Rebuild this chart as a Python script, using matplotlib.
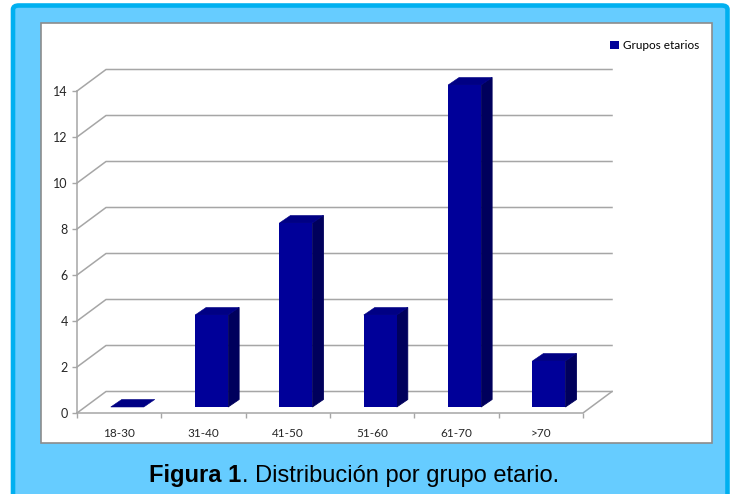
import matplotlib
matplotlib.use("Agg")
import matplotlib.pyplot as plt
from matplotlib.patches import Rectangle, Polygon, FancyBboxPatch
import numpy as np

# data
categories = ['18-30', '31-40', '41-50', '51-60', '61-70', '>70']
values = [0, 4, 8, 4, 14, 2]
yticks = [0, 2, 4, 6, 8, 10, 12, 14]
series_name = 'Grupos etarios'

W, H = 735, 494
fig = plt.figure(figsize=(W / 100, H / 100), dpi=100)
fig.patch.set_facecolor('white')

# outer blue frame and white chart panel (figure pixel coords -> fraction)
def fx(px):
    return px / W

def fy(py):
    return 1 - py / H

frame = FancyBboxPatch((fx(13), fy(520)), fx(727.5) - fx(13), fy(5.5) - fy(520),
                       boxstyle='round,pad=0,rounding_size=0.008',
                       transform=fig.transFigure, facecolor='#66CCFF',
                       edgecolor='#00B0F0', linewidth=3.3, zorder=-2)
fig.patches.append(frame)
panel = Rectangle((fx(41), fy(443)), fx(712) - fx(41), fy(23) - fy(443),
                  transform=fig.transFigure, facecolor='white',
                  edgecolor='#8C8C8C', linewidth=1.2, zorder=-1)
fig.patches.append(panel)

# front plane of the pseudo-3D chart
x0, x1, ytop, ybot = 77, 583, 91, 413
ax = fig.add_axes([fx(x0), fy(ybot), fx(x1) - fx(x0), fy(ytop) - fy(ybot)])
ax.set_xlim(0, len(categories))
ax.set_ylim(0, 14)
ax.patch.set_alpha(0)
for s in ax.spines.values():
    s.set_visible(False)

ppx = (x1 - x0) / len(categories)   # pixels per x unit
ppy = (ybot - ytop) / 14.0           # pixels per y unit
back_dx, back_dy = 29 / ppx, 21.5 / ppy
grid_c = '#A6A6A6'

# gridlines on the side/back walls
for v in yticks:
    ax.plot([0, back_dx, len(categories) + back_dx], [v, v + back_dy, v + back_dy],
            color=grid_c, lw=1.1, clip_on=False, zorder=1)
# floor front edge, right edge and value axis
ax.plot([0, len(categories), len(categories) + back_dx], [0, 0, back_dy],
        color=grid_c, lw=1.1, clip_on=False, zorder=1)
ax.plot([0, 0], [0, 14], color=grid_c, lw=1.1, clip_on=False, zorder=1)

# bars
f = 0.28
bw = 33 / ppx
ddx, ddy = 11 / ppx, 7.5 / ppy
xc = np.arange(len(categories)) + 0.5 + f * back_dx
base = f * back_dy
bars = ax.bar(xc, values, width=bw, bottom=base, color='#000099', linewidth=0, zorder=5)
for b in bars:
    b.set_clip_on(False)
for x, v in zip(xc, values):
    xl, xr = x - bw / 2, x + bw / 2
    yt = base + v
    if v > 0:
        ax.add_patch(Polygon([(xr, base), (xr + ddx, base + ddy), (xr + ddx, yt + ddy), (xr, yt)],
                             closed=True, facecolor='#00005C', edgecolor='#00005C', lw=0.6,
                             zorder=3, clip_on=False))
    ax.add_patch(Polygon([(xl, yt), (xr, yt), (xr + ddx, yt + ddy), (xl + ddx, yt + ddy)],
                         closed=True, facecolor='#000084', edgecolor='#000084', lw=0.4,
                         zorder=4, clip_on=False))

# ticks
lab_font = 'Lato'
ax.set_yticks(yticks)
ax.set_yticklabels([str(v) for v in yticks], fontsize=9, color='#262626', family=lab_font)
ax.tick_params(axis='y', length=3.6, width=1, color=grid_c, pad=3)
ax.set_xticks(np.arange(len(categories) + 1), minor=True)
ax.set_xticks(np.arange(len(categories)) + 0.5)
ax.set_xticklabels(categories, fontsize=8.5, color='#262626', family=lab_font)
ax.tick_params(axis='x', which='major', length=0, pad=11)
ax.tick_params(axis='x', which='minor', length=3.6, width=1, color=grid_c)

# legend
handle = Rectangle((0, 0), 1, 1, facecolor='#000099', edgecolor='none')
fig.legend([handle], [series_name], loc='center left',
           bbox_to_anchor=(fx(604), fy(45.5)), frameon=False, borderpad=0,
           handlelength=0.75, handleheight=0.75, handletextpad=0.4,
           prop={'family': lab_font, 'size': 8.5})

# caption: bold "Figura 1" followed by regular text, centered as a whole
renderer = fig.canvas.get_renderer()
cap_kw = dict(fontsize=17, family='Liberation Sans', color='black', va='baseline')
t1 = fig.text(0, fy(482), 'Figura 1', fontweight='bold', **cap_kw)
t2 = fig.text(0, fy(482), '. Distribución por grupo etario.', **cap_kw)
w1 = t1.get_window_extent(renderer).width
w2 = t2.get_window_extent(renderer).width
start = 354 - (w1 + w2) / 2
t1.set_x(fx(start))
t2.set_x(fx(start + w1))

fig.savefig('out.png', dpi=100)
